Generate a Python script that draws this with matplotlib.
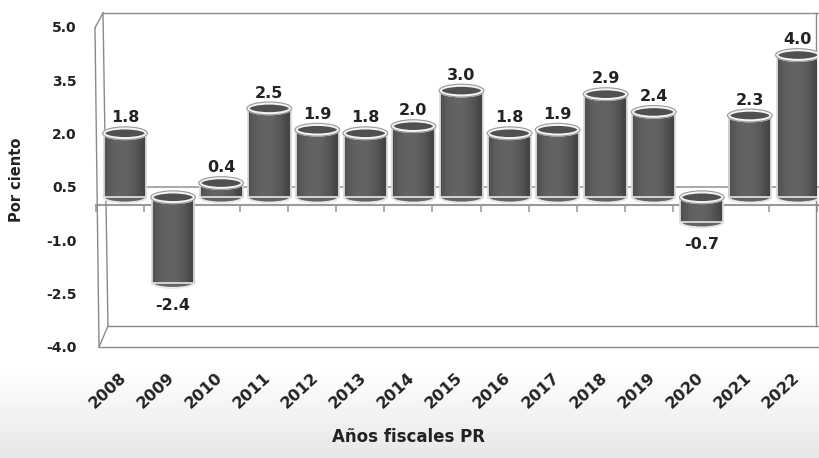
import numpy as np
import matplotlib.pyplot as plt
from matplotlib.patches import Ellipse
from matplotlib.transforms import ScaledTranslation

years = ['2008', '2009', '2010', '2011', '2012', '2013', '2014', '2015',
         '2016', '2017', '2018', '2019', '2020', '2021', '2022']
values = [1.8, -2.4, 0.4, 2.5, 1.9, 1.8, 2.0, 3.0, 1.8, 1.9, 2.9, 2.4, -0.7, 2.3, 4.0]
y_ticks = [-4.0, -2.5, -1.0, 0.5, 2.0, 3.5, 5.0]

plt.rcParams['font.family'] = ['DejaVu Sans']
txt = '#222222'
frame = '#8a8a8a'

fig = plt.figure(figsize=(8.19, 4.58), dpi=100)

# background: white fading into light grey at the bottom
bg = fig.add_axes([0, 0, 1, 1], zorder=-5)
grad = np.ones((458, 1))
grad[365:, 0] = np.linspace(1.0, 0.905, 93)
bg.imshow(grad, cmap='gray', vmin=0, vmax=1, aspect='auto', extent=[0, 1, 0, 1])
bg.axis('off')

ax = fig.add_axes([96 / 819, 111 / 458, 721 / 819, 320 / 458])
ax.set_xlim(-0.5, len(years) - 0.5)
ax.set_ylim(-4, 5)
ax.patch.set_alpha(0)
for s in ax.spines.values():
    s.set_visible(False)
ax.set_xticks([])
ax.set_yticks(y_ticks)
ax.set_yticklabels(['%.1f' % t for t in y_ticks], fontsize=10, fontweight='bold', color=txt)
ax.tick_params(axis='y', length=0, pad=14)


def shift(dx, dy):
    return ScaledTranslation(dx / 100, dy / 100, fig.dpi_scale_trans)


def fl(xs, ys):
    # frame line, given in axes fractions
    ax.plot(xs, ys, color=frame, lw=1, transform=ax.transAxes, clip_on=False)


# pseudo 3D box (axes fractions of the front plane)
bl, tl, fr, bb, tt = 0.0166, 0.0097, 0.9986, 0.0656, 1.044
fl([tl, bl], [tt, bb])          # back wall left edge
fl([tl, 1.01], [tt, tt])        # back wall top
fl([fr, fr], [tt, bb])          # back wall right edge
fl([bl, 1.01], [bb, bb])        # floor back edge
fl([-0.0014, 0.0042], [0.9975, 0.0])   # front left edge
fl([0.0042, 1.01], [0, 0])      # floor front edge
fl([-0.0014, tl], [0.9975, tt])
fl([0.0042, bl], [0, bb])

# zero plane (category floor)
n = len(years)
ax.plot([-0.3, n], [0, 0], color='#9a9a9a', lw=1.2,
        transform=ax.transData + shift(10, 18), clip_on=False, zorder=1)
ax.plot([-0.5, n], [0, 0], color='#9a9a9a', lw=1.5, transform=ax.transData, clip_on=False, zorder=1)
for b in np.arange(-0.5, n, 1.0):
    ax.plot([b, b], [0, -0.18], color='#9a9a9a', lw=1.2, zorder=1, clip_on=False)

# cylinders
bt = ax.transData + shift(5, 7.5)
w = 0.89
nstrip = 24
edges = np.linspace(-w / 2, w / 2, nstrip + 1)
mids = (edges[:-1] + edges[1:]) / 2
prof = 1 - ((mids / (w / 2) + 0.15) ** 2)
shade = 0.27 + 0.12 * np.clip(prof, 0, 1)
eh = 0.30
for i, v in enumerate(values):
    for k in range(nstrip):
        ax.bar(i + mids[k], v, width=w / nstrip + 0.002, color=str(shade[k]), lw=0,
               transform=bt, zorder=3)
    ax.bar(i, v, width=w, fill=False, edgecolor='#dcdcdc', lw=1.3, transform=bt, zorder=3)
    lo, hi = min(0, v), max(0, v)
    ax.add_patch(Ellipse((i, lo), w, eh, facecolor=str(shade[nstrip // 2 - 3]),
                         edgecolor='#e8e8e8', lw=1.5, transform=bt, zorder=2))
    ax.add_patch(Ellipse((i, hi), w, eh, facecolor='#505050', edgecolor='#f4f4f4', lw=2.2,
                         transform=bt, zorder=4))
    ax.add_patch(Ellipse((i, hi), w + 0.04, eh + 0.06, fill=False, edgecolor='#9a9a9a',
                         lw=0.8, transform=bt, zorder=4))
    if v >= 0:
        ax.text(i, v + 0.22, '%.1f' % v, ha='center', va='bottom', fontsize=11.5,
                fontweight='bold', color=txt, transform=bt, zorder=5)
    else:
        ax.text(i, v - 0.42, '%.1f' % v, ha='center', va='top', fontsize=11.5,
                fontweight='bold', color=txt, transform=bt, zorder=5)

# category labels
for i, y in enumerate(years):
    ax.text(i - 0.02, -0.07, y, rotation=43, rotation_mode='anchor', ha='right', va='top',
            fontsize=11.5, fontweight='bold', color=txt, transform=ax.get_xaxis_transform())

fig.text(17 / 819, 1 - 180 / 458, 'Por ciento', rotation=90, ha='center', va='center',
         fontsize=10.5, fontweight='bold', color=txt)
fig.text(409 / 819, 1 - 437 / 458, 'Años fiscales PR', ha='center', va='center',
         fontsize=12, fontweight='bold', color=txt)

fig.savefig('out.png', dpi=100)
